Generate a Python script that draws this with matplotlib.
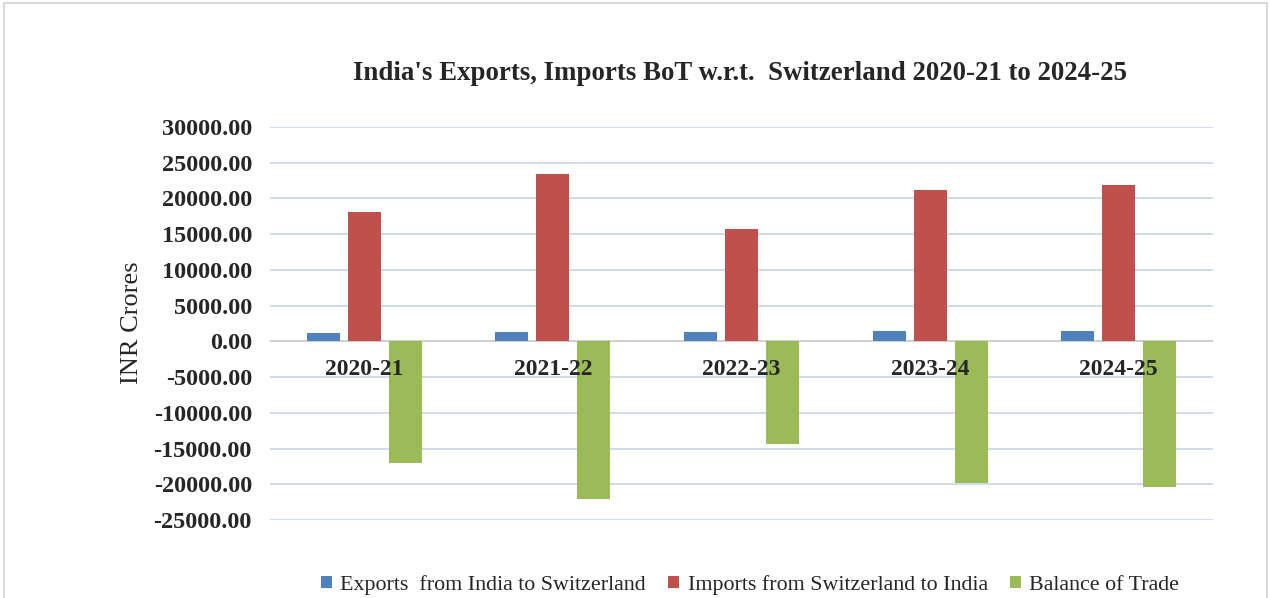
import numpy as np
import matplotlib.pyplot as plt
from matplotlib.patches import Rectangle

years = ['2020-21', '2021-22', '2022-23', '2023-24', '2024-25']
exports = [1160, 1270, 1300, 1420, 1450]
imports = [18160, 23380, 15680, 21180, 21840]
balance = [-17000, -22110, -14380, -19760, -20390]
series_names = ['Exports  from India to Switzerland',
                'Imports from Switzerland to India',
                'Balance of Trade']
colors = ['#4F81BD', '#C0504D', '#9BBB59']

plt.rcParams['font.family'] = ['Liberation Serif', 'DejaVu Serif']

fig = plt.figure(figsize=(12.7, 5.98), dpi=100)
ax = fig.add_axes([0.2126, 0.1304, 0.7425, 0.6572])

# light frame round the whole chart
fig.patches.append(Rectangle((0.003, -0.01), 0.995, 1.005, transform=fig.transFigure,
                             fill=False, edgecolor='#d9d9d9', linewidth=1.5))

x = np.arange(len(years))
width = 0.175
step = 0.217
for k, (vals, name, c) in enumerate(zip([exports, imports, balance], series_names, colors)):
    ax.bar(x + (k - 1) * step, vals, width, color=c, label=name, zorder=3)

ax.set_xlim(-0.5, len(years) - 0.5)
ax.set_ylim(-25000, 30000)
ax.set_yticks(np.arange(-25000, 30001, 5000))
ax.set_yticklabels([f'{v:.2f}' for v in np.arange(-25000, 30001, 5000)],
                   fontsize=17.5, fontweight='bold', color='#262626')
ax.tick_params(axis='y', length=0, pad=13)
ax.set_xticks([])
ax.grid(axis='y', color='#cbd9ec', linewidth=1.3, zorder=0)
ax.axhline(0, color='#d0d0d0', linewidth=1.5, zorder=2)
for s in ax.spines.values():
    s.set_visible(False)

for i, yr in enumerate(years):
    ax.annotate(yr, xy=(i, 0), xytext=(0, -28), textcoords='offset pixels',
                ha='center', va='center', fontsize=17, fontweight='bold',
                color='#262626', zorder=5)

fig.text(132 / 1270, 1 - 323 / 598, 'INR Crores', rotation=90, ha='center', va='center',
         fontsize=19, color='#262626')
fig.text(740 / 1270, 1 - 73 / 598,
         "India's Exports, Imports BoT w.r.t.  Switzerland 2020-21 to 2024-25",
         ha='center', va='center', fontsize=19.4, fontweight='bold', color='#262626')

fig.legend(loc='center', bbox_to_anchor=(750 / 1270, 1 - 585 / 598), ncol=3,
           frameon=False, fontsize=15.8, handlelength=0.5, handleheight=0.5,
           handletextpad=0.4, columnspacing=1.0, labelcolor='#262626')

fig.savefig('out.png', dpi=100, facecolor='white')
